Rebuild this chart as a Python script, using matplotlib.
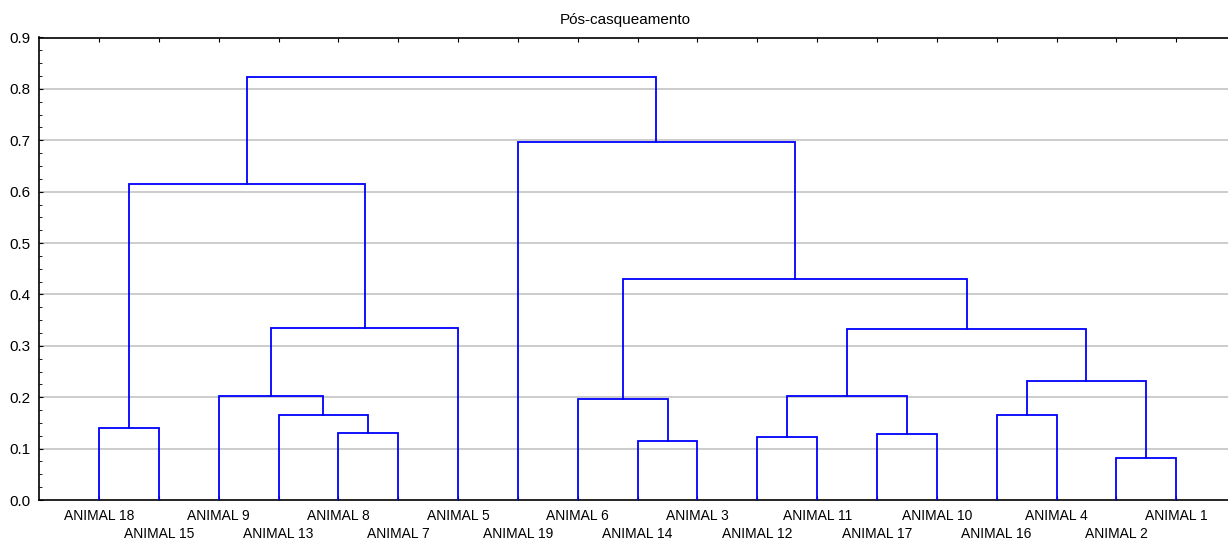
import matplotlib
matplotlib.use("Agg")
import matplotlib.pyplot as plt
import matplotlib.transforms as mtransforms
from matplotlib.ticker import MultipleLocator

plt.rcParams["font.family"] = ["Liberation Sans", "DejaVu Sans"]

# leaves in dendrogram order (left to right)
leaf_labels = [
    "ANIMAL 18", "ANIMAL 15", "ANIMAL 9", "ANIMAL 13", "ANIMAL 8", "ANIMAL 7",
    "ANIMAL 5", "ANIMAL 19", "ANIMAL 6", "ANIMAL 14", "ANIMAL 3", "ANIMAL 12",
    "ANIMAL 11", "ANIMAL 17", "ANIMAL 10", "ANIMAL 16", "ANIMAL 4", "ANIMAL 2",
    "ANIMAL 1",
]

# merges: node ids 0..18 are leaves, each merge creates id 19, 20, ...
merge_left = [0, 4, 3, 2, 22, 19, 9, 8, 11, 13, 27, 15, 17, 30, 29, 26, 7, 24]
merge_right = [1, 5, 20, 21, 6, 23, 10, 25, 12, 14, 28, 16, 18, 31, 32, 33, 34, 35]
merge_height = [0.140, 0.130, 0.166, 0.202, 0.334, 0.615, 0.115, 0.197, 0.123,
                0.128, 0.203, 0.165, 0.081, 0.232, 0.333, 0.431, 0.696, 0.823]

yticks = [0.0, 0.1, 0.2, 0.3, 0.4, 0.5, 0.6, 0.7, 0.8, 0.9]

W, H = 1228, 541
fig = plt.figure(figsize=(W / 100, H / 100), dpi=100)
ax = fig.add_axes([39.15 / W, (H - 500) / H, 1196.9 / W, (500 - 37.5) / H])

n = len(leaf_labels)
xpos = {i: i + 1 for i in range(n)}
ypos = {i: 0.0 for i in range(n)}

blue = "#0000ff"
for k, (a, b, h) in enumerate(zip(merge_left, merge_right, merge_height)):
    node = n + k
    xa, xb = xpos[a], xpos[b]
    ax.plot([xa, xa, xb, xb], [ypos[a], h, h, ypos[b]], color=blue, lw=1.3,
            solid_joinstyle="miter", zorder=3)
    xpos[node] = (xa + xb) / 2
    ypos[node] = h

ax.set_xlim(0, 20)
ax.set_ylim(0, 0.9)

for y in yticks[1:]:
    ax.axhline(y, color="#cccccc", lw=1.4, zorder=1)

ax.set_yticks(yticks)
ax.set_yticklabels([f"{v:.1f}" for v in yticks], fontsize=11)
ax.yaxis.set_minor_locator(MultipleLocator(0.025))
ax.set_xticks(range(1, n + 1))
ax.set_xticklabels([])
ax.tick_params(axis="y", which="major", direction="in", length=3, width=0.8,
               pad=6, labelsize=11)
ax.tick_params(axis="y", which="minor", direction="in", length=2, width=0.6)
ax.tick_params(axis="x", which="major", direction="in", length=3, width=0.8,
               top=True, bottom=True)
for s in ax.spines.values():
    s.set_linewidth(1.2)

# leaf labels in two staggered rows
for i, lab in enumerate(leaf_labels):
    dy = -9 if i % 2 == 0 else -27
    tr = ax.get_xaxis_transform() + mtransforms.ScaledTranslation(
        0, dy / 100, fig.dpi_scale_trans)
    ax.text(i + 1, 0, lab, transform=tr, ha="center", va="top", fontsize=10,
            clip_on=False)

fig.text(625 / W, 1 - 24 / H, "Pós-casqueamento", ha="center", va="baseline",
         fontsize=11)

fig.savefig("out.png", dpi=100)
